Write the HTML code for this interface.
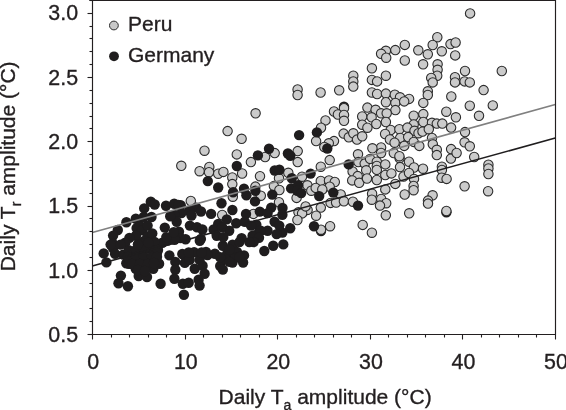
<!DOCTYPE html>
<html><head><meta charset="utf-8"><style>
html,body{margin:0;padding:0;background:#fff;width:566px;height:410px;overflow:hidden}
#c{position:relative;will-change:transform;width:566px;height:410px;font-family:"Liberation Sans",sans-serif;color:#231f20}
svg text{font-family:"Liberation Sans",sans-serif;fill:#231f20;stroke:#231f20;stroke-width:0.35px}
</style></head><body><div id="c">
<svg width="566" height="410" viewBox="0 0 566 410" style="position:absolute;left:0;top:0">
<circle cx="344.0" cy="106.8" r="5.2" fill="#1f1d1e"/>
<circle cx="446.4" cy="212.2" r="5.2" fill="#1f1d1e"/>
<circle cx="321.0" cy="231.0" r="5.2" fill="#1f1d1e"/>
<circle cx="437.3" cy="37.2" r="4.7" fill="#cbcbcb" stroke="#2c2c2c" stroke-width="1.1"/>
<circle cx="404.8" cy="44.9" r="4.7" fill="#cbcbcb" stroke="#2c2c2c" stroke-width="1.1"/>
<circle cx="395.3" cy="50.1" r="4.7" fill="#cbcbcb" stroke="#2c2c2c" stroke-width="1.1"/>
<circle cx="385.9" cy="50.8" r="4.7" fill="#cbcbcb" stroke="#2c2c2c" stroke-width="1.1"/>
<circle cx="381.1" cy="53.8" r="4.7" fill="#cbcbcb" stroke="#2c2c2c" stroke-width="1.1"/>
<circle cx="386.2" cy="57.7" r="4.7" fill="#cbcbcb" stroke="#2c2c2c" stroke-width="1.1"/>
<circle cx="418.3" cy="50.3" r="4.7" fill="#cbcbcb" stroke="#2c2c2c" stroke-width="1.1"/>
<circle cx="432.7" cy="45.0" r="4.7" fill="#cbcbcb" stroke="#2c2c2c" stroke-width="1.1"/>
<circle cx="427.8" cy="54.3" r="4.7" fill="#cbcbcb" stroke="#2c2c2c" stroke-width="1.1"/>
<circle cx="441.8" cy="51.3" r="4.7" fill="#cbcbcb" stroke="#2c2c2c" stroke-width="1.1"/>
<circle cx="450.5" cy="44.1" r="4.7" fill="#cbcbcb" stroke="#2c2c2c" stroke-width="1.1"/>
<circle cx="455.6" cy="42.5" r="4.7" fill="#cbcbcb" stroke="#2c2c2c" stroke-width="1.1"/>
<circle cx="455.2" cy="55.4" r="4.7" fill="#cbcbcb" stroke="#2c2c2c" stroke-width="1.1"/>
<circle cx="470.1" cy="13.4" r="4.7" fill="#cbcbcb" stroke="#2c2c2c" stroke-width="1.1"/>
<circle cx="371.9" cy="68.3" r="4.7" fill="#cbcbcb" stroke="#2c2c2c" stroke-width="1.1"/>
<circle cx="353.3" cy="75.7" r="4.7" fill="#cbcbcb" stroke="#2c2c2c" stroke-width="1.1"/>
<circle cx="353.3" cy="81.4" r="4.7" fill="#cbcbcb" stroke="#2c2c2c" stroke-width="1.1"/>
<circle cx="353.3" cy="86.6" r="4.7" fill="#cbcbcb" stroke="#2c2c2c" stroke-width="1.1"/>
<circle cx="371.9" cy="79.9" r="4.7" fill="#cbcbcb" stroke="#2c2c2c" stroke-width="1.1"/>
<circle cx="377.1" cy="81.4" r="4.7" fill="#cbcbcb" stroke="#2c2c2c" stroke-width="1.1"/>
<circle cx="339.2" cy="90.3" r="4.7" fill="#cbcbcb" stroke="#2c2c2c" stroke-width="1.1"/>
<circle cx="320.6" cy="92.5" r="4.7" fill="#cbcbcb" stroke="#2c2c2c" stroke-width="1.1"/>
<circle cx="371.9" cy="92.5" r="4.7" fill="#cbcbcb" stroke="#2c2c2c" stroke-width="1.1"/>
<circle cx="377.1" cy="94.0" r="4.7" fill="#cbcbcb" stroke="#2c2c2c" stroke-width="1.1"/>
<circle cx="404.8" cy="60.5" r="4.7" fill="#cbcbcb" stroke="#2c2c2c" stroke-width="1.1"/>
<circle cx="423.1" cy="64.3" r="4.7" fill="#cbcbcb" stroke="#2c2c2c" stroke-width="1.1"/>
<circle cx="437.6" cy="64.3" r="4.7" fill="#cbcbcb" stroke="#2c2c2c" stroke-width="1.1"/>
<circle cx="437.6" cy="69.8" r="4.7" fill="#cbcbcb" stroke="#2c2c2c" stroke-width="1.1"/>
<circle cx="437.2" cy="75.7" r="4.7" fill="#cbcbcb" stroke="#2c2c2c" stroke-width="1.1"/>
<circle cx="431.2" cy="77.9" r="4.7" fill="#cbcbcb" stroke="#2c2c2c" stroke-width="1.1"/>
<circle cx="432.7" cy="82.4" r="4.7" fill="#cbcbcb" stroke="#2c2c2c" stroke-width="1.1"/>
<circle cx="385.9" cy="75.7" r="4.7" fill="#cbcbcb" stroke="#2c2c2c" stroke-width="1.1"/>
<circle cx="385.9" cy="93.6" r="4.7" fill="#cbcbcb" stroke="#2c2c2c" stroke-width="1.1"/>
<circle cx="394.8" cy="94.7" r="4.7" fill="#cbcbcb" stroke="#2c2c2c" stroke-width="1.1"/>
<circle cx="400.0" cy="97.3" r="4.7" fill="#cbcbcb" stroke="#2c2c2c" stroke-width="1.1"/>
<circle cx="409.1" cy="98.9" r="4.7" fill="#cbcbcb" stroke="#2c2c2c" stroke-width="1.1"/>
<circle cx="427.8" cy="91.3" r="4.7" fill="#cbcbcb" stroke="#2c2c2c" stroke-width="1.1"/>
<circle cx="427.8" cy="95.0" r="4.7" fill="#cbcbcb" stroke="#2c2c2c" stroke-width="1.1"/>
<circle cx="455.0" cy="77.2" r="4.7" fill="#cbcbcb" stroke="#2c2c2c" stroke-width="1.1"/>
<circle cx="455.0" cy="82.4" r="4.7" fill="#cbcbcb" stroke="#2c2c2c" stroke-width="1.1"/>
<circle cx="451.3" cy="96.5" r="4.7" fill="#cbcbcb" stroke="#2c2c2c" stroke-width="1.1"/>
<circle cx="465.0" cy="71.0" r="4.7" fill="#cbcbcb" stroke="#2c2c2c" stroke-width="1.1"/>
<circle cx="464.6" cy="81.4" r="4.7" fill="#cbcbcb" stroke="#2c2c2c" stroke-width="1.1"/>
<circle cx="469.8" cy="82.4" r="4.7" fill="#cbcbcb" stroke="#2c2c2c" stroke-width="1.1"/>
<circle cx="501.8" cy="71.0" r="4.7" fill="#cbcbcb" stroke="#2c2c2c" stroke-width="1.1"/>
<circle cx="483.6" cy="90.1" r="4.7" fill="#cbcbcb" stroke="#2c2c2c" stroke-width="1.1"/>
<circle cx="297.6" cy="89.4" r="4.7" fill="#cbcbcb" stroke="#2c2c2c" stroke-width="1.1"/>
<circle cx="297.6" cy="95.0" r="4.7" fill="#cbcbcb" stroke="#2c2c2c" stroke-width="1.1"/>
<circle cx="227.6" cy="131.1" r="4.7" fill="#cbcbcb" stroke="#2c2c2c" stroke-width="1.1"/>
<circle cx="255.6" cy="113.3" r="4.7" fill="#cbcbcb" stroke="#2c2c2c" stroke-width="1.1"/>
<circle cx="241.6" cy="138.8" r="4.7" fill="#cbcbcb" stroke="#2c2c2c" stroke-width="1.1"/>
<circle cx="344.0" cy="108.2" r="4.7" fill="#cbcbcb" stroke="#2c2c2c" stroke-width="1.1"/>
<circle cx="334.0" cy="111.5" r="4.7" fill="#cbcbcb" stroke="#2c2c2c" stroke-width="1.1"/>
<circle cx="337.9" cy="114.5" r="4.7" fill="#cbcbcb" stroke="#2c2c2c" stroke-width="1.1"/>
<circle cx="344.0" cy="114.9" r="4.7" fill="#cbcbcb" stroke="#2c2c2c" stroke-width="1.1"/>
<circle cx="344.0" cy="120.8" r="4.7" fill="#cbcbcb" stroke="#2c2c2c" stroke-width="1.1"/>
<circle cx="325.5" cy="120.4" r="4.7" fill="#cbcbcb" stroke="#2c2c2c" stroke-width="1.1"/>
<circle cx="321.0" cy="127.7" r="4.7" fill="#cbcbcb" stroke="#2c2c2c" stroke-width="1.1"/>
<circle cx="316.1" cy="141.1" r="4.7" fill="#cbcbcb" stroke="#2c2c2c" stroke-width="1.1"/>
<circle cx="367.4" cy="107.6" r="4.7" fill="#cbcbcb" stroke="#2c2c2c" stroke-width="1.1"/>
<circle cx="375.6" cy="109.8" r="4.7" fill="#cbcbcb" stroke="#2c2c2c" stroke-width="1.1"/>
<circle cx="362.2" cy="116.5" r="4.7" fill="#cbcbcb" stroke="#2c2c2c" stroke-width="1.1"/>
<circle cx="371.6" cy="117.3" r="4.7" fill="#cbcbcb" stroke="#2c2c2c" stroke-width="1.1"/>
<circle cx="362.2" cy="124.7" r="4.7" fill="#cbcbcb" stroke="#2c2c2c" stroke-width="1.1"/>
<circle cx="367.4" cy="127.7" r="4.7" fill="#cbcbcb" stroke="#2c2c2c" stroke-width="1.1"/>
<circle cx="376.3" cy="124.0" r="4.7" fill="#cbcbcb" stroke="#2c2c2c" stroke-width="1.1"/>
<circle cx="343.6" cy="133.6" r="4.7" fill="#cbcbcb" stroke="#2c2c2c" stroke-width="1.1"/>
<circle cx="348.8" cy="137.3" r="4.7" fill="#cbcbcb" stroke="#2c2c2c" stroke-width="1.1"/>
<circle cx="353.3" cy="133.3" r="4.7" fill="#cbcbcb" stroke="#2c2c2c" stroke-width="1.1"/>
<circle cx="357.0" cy="139.6" r="4.7" fill="#cbcbcb" stroke="#2c2c2c" stroke-width="1.1"/>
<circle cx="362.2" cy="136.3" r="4.7" fill="#cbcbcb" stroke="#2c2c2c" stroke-width="1.1"/>
<circle cx="334.0" cy="141.1" r="4.7" fill="#cbcbcb" stroke="#2c2c2c" stroke-width="1.1"/>
<circle cx="328.8" cy="143.3" r="4.7" fill="#cbcbcb" stroke="#2c2c2c" stroke-width="1.1"/>
<circle cx="324.3" cy="147.0" r="4.7" fill="#cbcbcb" stroke="#2c2c2c" stroke-width="1.1"/>
<circle cx="469.8" cy="105.7" r="4.7" fill="#cbcbcb" stroke="#2c2c2c" stroke-width="1.1"/>
<circle cx="492.8" cy="105.4" r="4.7" fill="#cbcbcb" stroke="#2c2c2c" stroke-width="1.1"/>
<circle cx="479.0" cy="115.8" r="4.7" fill="#cbcbcb" stroke="#2c2c2c" stroke-width="1.1"/>
<circle cx="465.0" cy="132.1" r="4.7" fill="#cbcbcb" stroke="#2c2c2c" stroke-width="1.1"/>
<circle cx="464.6" cy="142.3" r="4.7" fill="#cbcbcb" stroke="#2c2c2c" stroke-width="1.1"/>
<circle cx="469.8" cy="146.3" r="4.7" fill="#cbcbcb" stroke="#2c2c2c" stroke-width="1.1"/>
<circle cx="204.5" cy="150.7" r="4.7" fill="#cbcbcb" stroke="#2c2c2c" stroke-width="1.1"/>
<circle cx="181.3" cy="165.8" r="4.7" fill="#cbcbcb" stroke="#2c2c2c" stroke-width="1.1"/>
<circle cx="199.6" cy="171.2" r="4.7" fill="#cbcbcb" stroke="#2c2c2c" stroke-width="1.1"/>
<circle cx="209.3" cy="167.0" r="4.7" fill="#cbcbcb" stroke="#2c2c2c" stroke-width="1.1"/>
<circle cx="209.0" cy="172.2" r="4.7" fill="#cbcbcb" stroke="#2c2c2c" stroke-width="1.1"/>
<circle cx="218.2" cy="173.7" r="4.7" fill="#cbcbcb" stroke="#2c2c2c" stroke-width="1.1"/>
<circle cx="223.4" cy="171.9" r="4.7" fill="#cbcbcb" stroke="#2c2c2c" stroke-width="1.1"/>
<circle cx="232.3" cy="177.4" r="4.7" fill="#cbcbcb" stroke="#2c2c2c" stroke-width="1.1"/>
<circle cx="232.3" cy="184.1" r="4.7" fill="#cbcbcb" stroke="#2c2c2c" stroke-width="1.1"/>
<circle cx="236.8" cy="154.4" r="4.7" fill="#cbcbcb" stroke="#2c2c2c" stroke-width="1.1"/>
<circle cx="250.9" cy="162.1" r="4.7" fill="#cbcbcb" stroke="#2c2c2c" stroke-width="1.1"/>
<circle cx="265.1" cy="157.0" r="4.7" fill="#cbcbcb" stroke="#2c2c2c" stroke-width="1.1"/>
<circle cx="274.7" cy="153.1" r="4.7" fill="#cbcbcb" stroke="#2c2c2c" stroke-width="1.1"/>
<circle cx="297.7" cy="151.1" r="4.7" fill="#cbcbcb" stroke="#2c2c2c" stroke-width="1.1"/>
<circle cx="297.7" cy="162.1" r="4.7" fill="#cbcbcb" stroke="#2c2c2c" stroke-width="1.1"/>
<circle cx="242.1" cy="173.5" r="4.7" fill="#cbcbcb" stroke="#2c2c2c" stroke-width="1.1"/>
<circle cx="260.0" cy="176.2" r="4.7" fill="#cbcbcb" stroke="#2c2c2c" stroke-width="1.1"/>
<circle cx="255.4" cy="186.6" r="4.7" fill="#cbcbcb" stroke="#2c2c2c" stroke-width="1.1"/>
<circle cx="260.8" cy="195.7" r="4.7" fill="#cbcbcb" stroke="#2c2c2c" stroke-width="1.1"/>
<circle cx="279.0" cy="178.3" r="4.7" fill="#cbcbcb" stroke="#2c2c2c" stroke-width="1.1"/>
<circle cx="288.3" cy="172.8" r="4.7" fill="#cbcbcb" stroke="#2c2c2c" stroke-width="1.1"/>
<circle cx="302.0" cy="176.7" r="4.7" fill="#cbcbcb" stroke="#2c2c2c" stroke-width="1.1"/>
<circle cx="273.9" cy="186.1" r="4.7" fill="#cbcbcb" stroke="#2c2c2c" stroke-width="1.1"/>
<circle cx="279.4" cy="190.0" r="4.7" fill="#cbcbcb" stroke="#2c2c2c" stroke-width="1.1"/>
<circle cx="307.4" cy="185.3" r="4.7" fill="#cbcbcb" stroke="#2c2c2c" stroke-width="1.1"/>
<circle cx="311.3" cy="190.7" r="4.7" fill="#cbcbcb" stroke="#2c2c2c" stroke-width="1.1"/>
<circle cx="329.7" cy="160.1" r="4.7" fill="#cbcbcb" stroke="#2c2c2c" stroke-width="1.1"/>
<circle cx="320.8" cy="166.7" r="4.7" fill="#cbcbcb" stroke="#2c2c2c" stroke-width="1.1"/>
<circle cx="358.0" cy="154.3" r="4.7" fill="#cbcbcb" stroke="#2c2c2c" stroke-width="1.1"/>
<circle cx="358.4" cy="162.1" r="4.7" fill="#cbcbcb" stroke="#2c2c2c" stroke-width="1.1"/>
<circle cx="364.7" cy="163.6" r="4.7" fill="#cbcbcb" stroke="#2c2c2c" stroke-width="1.1"/>
<circle cx="370.1" cy="158.9" r="4.7" fill="#cbcbcb" stroke="#2c2c2c" stroke-width="1.1"/>
<circle cx="376.8" cy="161.7" r="4.7" fill="#cbcbcb" stroke="#2c2c2c" stroke-width="1.1"/>
<circle cx="376.8" cy="166.0" r="4.7" fill="#cbcbcb" stroke="#2c2c2c" stroke-width="1.1"/>
<circle cx="366.2" cy="170.3" r="4.7" fill="#cbcbcb" stroke="#2c2c2c" stroke-width="1.1"/>
<circle cx="385.3" cy="164.4" r="4.7" fill="#cbcbcb" stroke="#2c2c2c" stroke-width="1.1"/>
<circle cx="320.8" cy="180.9" r="4.7" fill="#cbcbcb" stroke="#2c2c2c" stroke-width="1.1"/>
<circle cx="329.0" cy="180.5" r="4.7" fill="#cbcbcb" stroke="#2c2c2c" stroke-width="1.1"/>
<circle cx="334.8" cy="182.0" r="4.7" fill="#cbcbcb" stroke="#2c2c2c" stroke-width="1.1"/>
<circle cx="329.7" cy="186.7" r="4.7" fill="#cbcbcb" stroke="#2c2c2c" stroke-width="1.1"/>
<circle cx="315.7" cy="187.9" r="4.7" fill="#cbcbcb" stroke="#2c2c2c" stroke-width="1.1"/>
<circle cx="322.3" cy="189.5" r="4.7" fill="#cbcbcb" stroke="#2c2c2c" stroke-width="1.1"/>
<circle cx="340.7" cy="194.5" r="4.7" fill="#cbcbcb" stroke="#2c2c2c" stroke-width="1.1"/>
<circle cx="352.6" cy="171.5" r="4.7" fill="#cbcbcb" stroke="#2c2c2c" stroke-width="1.1"/>
<circle cx="357.7" cy="176.1" r="4.7" fill="#cbcbcb" stroke="#2c2c2c" stroke-width="1.1"/>
<circle cx="352.2" cy="180.4" r="4.7" fill="#cbcbcb" stroke="#2c2c2c" stroke-width="1.1"/>
<circle cx="359.2" cy="182.8" r="4.7" fill="#cbcbcb" stroke="#2c2c2c" stroke-width="1.1"/>
<circle cx="367.0" cy="178.5" r="4.7" fill="#cbcbcb" stroke="#2c2c2c" stroke-width="1.1"/>
<circle cx="376.8" cy="169.9" r="4.7" fill="#cbcbcb" stroke="#2c2c2c" stroke-width="1.1"/>
<circle cx="376.8" cy="180.0" r="4.7" fill="#cbcbcb" stroke="#2c2c2c" stroke-width="1.1"/>
<circle cx="385.3" cy="175.0" r="4.7" fill="#cbcbcb" stroke="#2c2c2c" stroke-width="1.1"/>
<circle cx="372.1" cy="193.7" r="4.7" fill="#cbcbcb" stroke="#2c2c2c" stroke-width="1.1"/>
<circle cx="385.3" cy="189.4" r="4.7" fill="#cbcbcb" stroke="#2c2c2c" stroke-width="1.1"/>
<circle cx="399.6" cy="158.2" r="4.7" fill="#cbcbcb" stroke="#2c2c2c" stroke-width="1.1"/>
<circle cx="409.0" cy="161.7" r="4.7" fill="#cbcbcb" stroke="#2c2c2c" stroke-width="1.1"/>
<circle cx="400.0" cy="167.1" r="4.7" fill="#cbcbcb" stroke="#2c2c2c" stroke-width="1.1"/>
<circle cx="414.0" cy="167.5" r="4.7" fill="#cbcbcb" stroke="#2c2c2c" stroke-width="1.1"/>
<circle cx="423.0" cy="168.7" r="4.7" fill="#cbcbcb" stroke="#2c2c2c" stroke-width="1.1"/>
<circle cx="391.4" cy="173.4" r="4.7" fill="#cbcbcb" stroke="#2c2c2c" stroke-width="1.1"/>
<circle cx="403.5" cy="176.5" r="4.7" fill="#cbcbcb" stroke="#2c2c2c" stroke-width="1.1"/>
<circle cx="409.0" cy="173.0" r="4.7" fill="#cbcbcb" stroke="#2c2c2c" stroke-width="1.1"/>
<circle cx="414.0" cy="178.9" r="4.7" fill="#cbcbcb" stroke="#2c2c2c" stroke-width="1.1"/>
<circle cx="395.3" cy="183.9" r="4.7" fill="#cbcbcb" stroke="#2c2c2c" stroke-width="1.1"/>
<circle cx="413.6" cy="185.9" r="4.7" fill="#cbcbcb" stroke="#2c2c2c" stroke-width="1.1"/>
<circle cx="413.6" cy="190.2" r="4.7" fill="#cbcbcb" stroke="#2c2c2c" stroke-width="1.1"/>
<circle cx="404.7" cy="194.5" r="4.7" fill="#cbcbcb" stroke="#2c2c2c" stroke-width="1.1"/>
<circle cx="450.9" cy="158.6" r="4.7" fill="#cbcbcb" stroke="#2c2c2c" stroke-width="1.1"/>
<circle cx="441.9" cy="166.7" r="4.7" fill="#cbcbcb" stroke="#2c2c2c" stroke-width="1.1"/>
<circle cx="441.9" cy="170.0" r="4.7" fill="#cbcbcb" stroke="#2c2c2c" stroke-width="1.1"/>
<circle cx="441.6" cy="177.7" r="4.7" fill="#cbcbcb" stroke="#2c2c2c" stroke-width="1.1"/>
<circle cx="446.6" cy="178.9" r="4.7" fill="#cbcbcb" stroke="#2c2c2c" stroke-width="1.1"/>
<circle cx="464.6" cy="186.3" r="4.7" fill="#cbcbcb" stroke="#2c2c2c" stroke-width="1.1"/>
<circle cx="432.6" cy="195.3" r="4.7" fill="#cbcbcb" stroke="#2c2c2c" stroke-width="1.1"/>
<circle cx="474.2" cy="157.0" r="4.7" fill="#cbcbcb" stroke="#2c2c2c" stroke-width="1.1"/>
<circle cx="488.4" cy="164.7" r="4.7" fill="#cbcbcb" stroke="#2c2c2c" stroke-width="1.1"/>
<circle cx="488.4" cy="168.5" r="4.7" fill="#cbcbcb" stroke="#2c2c2c" stroke-width="1.1"/>
<circle cx="488.4" cy="174.0" r="4.7" fill="#cbcbcb" stroke="#2c2c2c" stroke-width="1.1"/>
<circle cx="488.1" cy="191.2" r="4.7" fill="#cbcbcb" stroke="#2c2c2c" stroke-width="1.1"/>
<circle cx="190.8" cy="201.0" r="4.7" fill="#cbcbcb" stroke="#2c2c2c" stroke-width="1.1"/>
<circle cx="232.8" cy="196.7" r="4.7" fill="#cbcbcb" stroke="#2c2c2c" stroke-width="1.1"/>
<circle cx="222.2" cy="215.0" r="4.7" fill="#cbcbcb" stroke="#2c2c2c" stroke-width="1.1"/>
<circle cx="253.4" cy="213.9" r="4.7" fill="#cbcbcb" stroke="#2c2c2c" stroke-width="1.1"/>
<circle cx="279.0" cy="202.2" r="4.7" fill="#cbcbcb" stroke="#2c2c2c" stroke-width="1.1"/>
<circle cx="296.6" cy="197.9" r="4.7" fill="#cbcbcb" stroke="#2c2c2c" stroke-width="1.1"/>
<circle cx="298.5" cy="212.3" r="4.7" fill="#cbcbcb" stroke="#2c2c2c" stroke-width="1.1"/>
<circle cx="330.6" cy="202.9" r="4.7" fill="#cbcbcb" stroke="#2c2c2c" stroke-width="1.1"/>
<circle cx="320.8" cy="207.6" r="4.7" fill="#cbcbcb" stroke="#2c2c2c" stroke-width="1.1"/>
<circle cx="307.6" cy="209.9" r="4.7" fill="#cbcbcb" stroke="#2c2c2c" stroke-width="1.1"/>
<circle cx="302.1" cy="213.4" r="4.7" fill="#cbcbcb" stroke="#2c2c2c" stroke-width="1.1"/>
<circle cx="316.1" cy="215.7" r="4.7" fill="#cbcbcb" stroke="#2c2c2c" stroke-width="1.1"/>
<circle cx="297.4" cy="220.0" r="4.7" fill="#cbcbcb" stroke="#2c2c2c" stroke-width="1.1"/>
<circle cx="305.6" cy="206.4" r="4.7" fill="#cbcbcb" stroke="#2c2c2c" stroke-width="1.1"/>
<circle cx="336.1" cy="202.5" r="4.7" fill="#cbcbcb" stroke="#2c2c2c" stroke-width="1.1"/>
<circle cx="343.9" cy="201.3" r="4.7" fill="#cbcbcb" stroke="#2c2c2c" stroke-width="1.1"/>
<circle cx="352.9" cy="201.7" r="4.7" fill="#cbcbcb" stroke="#2c2c2c" stroke-width="1.1"/>
<circle cx="371.8" cy="199.7" r="4.7" fill="#cbcbcb" stroke="#2c2c2c" stroke-width="1.1"/>
<circle cx="381.2" cy="198.9" r="4.7" fill="#cbcbcb" stroke="#2c2c2c" stroke-width="1.1"/>
<circle cx="386.2" cy="203.2" r="4.7" fill="#cbcbcb" stroke="#2c2c2c" stroke-width="1.1"/>
<circle cx="380.0" cy="205.6" r="4.7" fill="#cbcbcb" stroke="#2c2c2c" stroke-width="1.1"/>
<circle cx="385.8" cy="215.3" r="4.7" fill="#cbcbcb" stroke="#2c2c2c" stroke-width="1.1"/>
<circle cx="428.0" cy="200.6" r="4.7" fill="#cbcbcb" stroke="#2c2c2c" stroke-width="1.1"/>
<circle cx="428.0" cy="203.6" r="4.7" fill="#cbcbcb" stroke="#2c2c2c" stroke-width="1.1"/>
<circle cx="409.2" cy="213.3" r="4.7" fill="#cbcbcb" stroke="#2c2c2c" stroke-width="1.1"/>
<circle cx="446.4" cy="211.0" r="4.7" fill="#cbcbcb" stroke="#2c2c2c" stroke-width="1.1"/>
<circle cx="321.0" cy="229.7" r="4.7" fill="#cbcbcb" stroke="#2c2c2c" stroke-width="1.1"/>
<circle cx="330.1" cy="226.2" r="4.7" fill="#cbcbcb" stroke="#2c2c2c" stroke-width="1.1"/>
<circle cx="362.7" cy="224.9" r="4.7" fill="#cbcbcb" stroke="#2c2c2c" stroke-width="1.1"/>
<circle cx="371.9" cy="232.7" r="4.7" fill="#cbcbcb" stroke="#2c2c2c" stroke-width="1.1"/>
<circle cx="385.9" cy="102.2" r="4.7" fill="#cbcbcb" stroke="#2c2c2c" stroke-width="1.1"/>
<circle cx="395.4" cy="102.9" r="4.7" fill="#cbcbcb" stroke="#2c2c2c" stroke-width="1.1"/>
<circle cx="395.4" cy="110.1" r="4.7" fill="#cbcbcb" stroke="#2c2c2c" stroke-width="1.1"/>
<circle cx="404.2" cy="101.4" r="4.7" fill="#cbcbcb" stroke="#2c2c2c" stroke-width="1.1"/>
<circle cx="423.3" cy="102.9" r="4.7" fill="#cbcbcb" stroke="#2c2c2c" stroke-width="1.1"/>
<circle cx="381.1" cy="113.3" r="4.7" fill="#cbcbcb" stroke="#2c2c2c" stroke-width="1.1"/>
<circle cx="386.7" cy="113.3" r="4.7" fill="#cbcbcb" stroke="#2c2c2c" stroke-width="1.1"/>
<circle cx="385.9" cy="122.0" r="4.7" fill="#cbcbcb" stroke="#2c2c2c" stroke-width="1.1"/>
<circle cx="413.7" cy="115.7" r="4.7" fill="#cbcbcb" stroke="#2c2c2c" stroke-width="1.1"/>
<circle cx="423.3" cy="114.1" r="4.7" fill="#cbcbcb" stroke="#2c2c2c" stroke-width="1.1"/>
<circle cx="446.3" cy="111.7" r="4.7" fill="#cbcbcb" stroke="#2c2c2c" stroke-width="1.1"/>
<circle cx="455.9" cy="117.3" r="4.7" fill="#cbcbcb" stroke="#2c2c2c" stroke-width="1.1"/>
<circle cx="413.7" cy="124.4" r="4.7" fill="#cbcbcb" stroke="#2c2c2c" stroke-width="1.1"/>
<circle cx="423.3" cy="122.0" r="4.7" fill="#cbcbcb" stroke="#2c2c2c" stroke-width="1.1"/>
<circle cx="432.0" cy="122.8" r="4.7" fill="#cbcbcb" stroke="#2c2c2c" stroke-width="1.1"/>
<circle cx="436.8" cy="123.6" r="4.7" fill="#cbcbcb" stroke="#2c2c2c" stroke-width="1.1"/>
<circle cx="442.3" cy="123.6" r="4.7" fill="#cbcbcb" stroke="#2c2c2c" stroke-width="1.1"/>
<circle cx="451.1" cy="127.6" r="4.7" fill="#cbcbcb" stroke="#2c2c2c" stroke-width="1.1"/>
<circle cx="390.7" cy="130.0" r="4.7" fill="#cbcbcb" stroke="#2c2c2c" stroke-width="1.1"/>
<circle cx="385.1" cy="134.0" r="4.7" fill="#cbcbcb" stroke="#2c2c2c" stroke-width="1.1"/>
<circle cx="399.4" cy="129.2" r="4.7" fill="#cbcbcb" stroke="#2c2c2c" stroke-width="1.1"/>
<circle cx="407.4" cy="127.6" r="4.7" fill="#cbcbcb" stroke="#2c2c2c" stroke-width="1.1"/>
<circle cx="414.5" cy="130.8" r="4.7" fill="#cbcbcb" stroke="#2c2c2c" stroke-width="1.1"/>
<circle cx="418.5" cy="133.2" r="4.7" fill="#cbcbcb" stroke="#2c2c2c" stroke-width="1.1"/>
<circle cx="422.5" cy="131.6" r="4.7" fill="#cbcbcb" stroke="#2c2c2c" stroke-width="1.1"/>
<circle cx="428.8" cy="129.2" r="4.7" fill="#cbcbcb" stroke="#2c2c2c" stroke-width="1.1"/>
<circle cx="389.9" cy="139.5" r="4.7" fill="#cbcbcb" stroke="#2c2c2c" stroke-width="1.1"/>
<circle cx="400.2" cy="137.9" r="4.7" fill="#cbcbcb" stroke="#2c2c2c" stroke-width="1.1"/>
<circle cx="394.6" cy="142.7" r="4.7" fill="#cbcbcb" stroke="#2c2c2c" stroke-width="1.1"/>
<circle cx="408.2" cy="137.1" r="4.7" fill="#cbcbcb" stroke="#2c2c2c" stroke-width="1.1"/>
<circle cx="413.7" cy="141.9" r="4.7" fill="#cbcbcb" stroke="#2c2c2c" stroke-width="1.1"/>
<circle cx="432.0" cy="137.9" r="4.7" fill="#cbcbcb" stroke="#2c2c2c" stroke-width="1.1"/>
<circle cx="432.8" cy="144.3" r="4.7" fill="#cbcbcb" stroke="#2c2c2c" stroke-width="1.1"/>
<circle cx="419.3" cy="145.9" r="4.7" fill="#cbcbcb" stroke="#2c2c2c" stroke-width="1.1"/>
<circle cx="404.2" cy="145.9" r="4.7" fill="#cbcbcb" stroke="#2c2c2c" stroke-width="1.1"/>
<circle cx="436.8" cy="149.8" r="4.7" fill="#cbcbcb" stroke="#2c2c2c" stroke-width="1.1"/>
<circle cx="451.1" cy="149.1" r="4.7" fill="#cbcbcb" stroke="#2c2c2c" stroke-width="1.1"/>
<circle cx="456.6" cy="153.0" r="4.7" fill="#cbcbcb" stroke="#2c2c2c" stroke-width="1.1"/>
<circle cx="381.1" cy="147.5" r="4.7" fill="#cbcbcb" stroke="#2c2c2c" stroke-width="1.1"/>
<circle cx="393.8" cy="153.0" r="4.7" fill="#cbcbcb" stroke="#2c2c2c" stroke-width="1.1"/>
<circle cx="436.8" cy="155.1" r="4.7" fill="#cbcbcb" stroke="#2c2c2c" stroke-width="1.1"/>
<circle cx="372.4" cy="148.3" r="4.7" fill="#cbcbcb" stroke="#2c2c2c" stroke-width="1.1"/>
<circle cx="381.1" cy="153.0" r="4.7" fill="#cbcbcb" stroke="#2c2c2c" stroke-width="1.1"/>
<circle cx="399.4" cy="156.2" r="4.7" fill="#cbcbcb" stroke="#2c2c2c" stroke-width="1.1"/>
<circle cx="299.1" cy="135.1" r="5.2" fill="#1f1d1e"/>
<circle cx="316.9" cy="132.4" r="5.2" fill="#1f1d1e"/>
<circle cx="327.3" cy="148.5" r="5.2" fill="#1f1d1e"/>
<circle cx="236.8" cy="166.0" r="5.2" fill="#1f1d1e"/>
<circle cx="207.8" cy="181.1" r="5.2" fill="#1f1d1e"/>
<circle cx="218.2" cy="187.5" r="5.2" fill="#1f1d1e"/>
<circle cx="233.1" cy="192.3" r="5.2" fill="#1f1d1e"/>
<circle cx="257.9" cy="155.4" r="5.2" fill="#1f1d1e"/>
<circle cx="269.0" cy="148.8" r="5.2" fill="#1f1d1e"/>
<circle cx="287.9" cy="153.5" r="5.2" fill="#1f1d1e"/>
<circle cx="290.3" cy="155.8" r="5.2" fill="#1f1d1e"/>
<circle cx="244.0" cy="188.7" r="5.2" fill="#1f1d1e"/>
<circle cx="255.4" cy="190.8" r="5.2" fill="#1f1d1e"/>
<circle cx="246.4" cy="195.3" r="5.2" fill="#1f1d1e"/>
<circle cx="274.7" cy="170.5" r="5.2" fill="#1f1d1e"/>
<circle cx="279.4" cy="169.7" r="5.2" fill="#1f1d1e"/>
<circle cx="291.8" cy="178.3" r="5.2" fill="#1f1d1e"/>
<circle cx="310.6" cy="173.6" r="5.2" fill="#1f1d1e"/>
<circle cx="291.1" cy="188.4" r="5.2" fill="#1f1d1e"/>
<circle cx="298.1" cy="185.3" r="5.2" fill="#1f1d1e"/>
<circle cx="297.3" cy="190.7" r="5.2" fill="#1f1d1e"/>
<circle cx="301.2" cy="193.1" r="5.2" fill="#1f1d1e"/>
<circle cx="272.3" cy="194.6" r="5.2" fill="#1f1d1e"/>
<circle cx="348.7" cy="164.4" r="5.2" fill="#1f1d1e"/>
<circle cx="333.3" cy="192.6" r="5.2" fill="#1f1d1e"/>
<circle cx="319.2" cy="196.1" r="5.2" fill="#1f1d1e"/>
<circle cx="126.4" cy="222.2" r="5.2" fill="#1f1d1e"/>
<circle cx="135.8" cy="218.7" r="5.2" fill="#1f1d1e"/>
<circle cx="117.8" cy="230.0" r="5.2" fill="#1f1d1e"/>
<circle cx="136.6" cy="228.1" r="5.2" fill="#1f1d1e"/>
<circle cx="150.8" cy="201.8" r="5.2" fill="#1f1d1e"/>
<circle cx="154.7" cy="204.5" r="5.2" fill="#1f1d1e"/>
<circle cx="144.2" cy="208.4" r="5.2" fill="#1f1d1e"/>
<circle cx="166.0" cy="205.7" r="5.2" fill="#1f1d1e"/>
<circle cx="174.2" cy="203.7" r="5.2" fill="#1f1d1e"/>
<circle cx="180.7" cy="205.3" r="5.2" fill="#1f1d1e"/>
<circle cx="178.3" cy="204.9" r="5.2" fill="#1f1d1e"/>
<circle cx="196.3" cy="207.6" r="5.2" fill="#1f1d1e"/>
<circle cx="201.0" cy="211.5" r="5.2" fill="#1f1d1e"/>
<circle cx="211.1" cy="213.9" r="5.2" fill="#1f1d1e"/>
<circle cx="189.3" cy="210.7" r="5.2" fill="#1f1d1e"/>
<circle cx="255.0" cy="201.4" r="5.2" fill="#1f1d1e"/>
<circle cx="221.5" cy="203.3" r="5.2" fill="#1f1d1e"/>
<circle cx="232.4" cy="210.0" r="5.2" fill="#1f1d1e"/>
<circle cx="246.0" cy="213.9" r="5.2" fill="#1f1d1e"/>
<circle cx="271.2" cy="207.6" r="5.2" fill="#1f1d1e"/>
<circle cx="282.5" cy="208.0" r="5.2" fill="#1f1d1e"/>
<circle cx="358.0" cy="205.6" r="5.2" fill="#1f1d1e"/>
<circle cx="314.0" cy="226.3" r="5.2" fill="#1f1d1e"/>
<circle cx="282.4" cy="214.7" r="5.2" fill="#1f1d1e"/>
<circle cx="274.6" cy="221.7" r="5.2" fill="#1f1d1e"/>
<circle cx="256.3" cy="224.8" r="5.2" fill="#1f1d1e"/>
<circle cx="267.6" cy="230.7" r="5.2" fill="#1f1d1e"/>
<circle cx="290.2" cy="228.3" r="5.2" fill="#1f1d1e"/>
<circle cx="282.4" cy="232.6" r="5.2" fill="#1f1d1e"/>
<circle cx="255.9" cy="235.0" r="5.2" fill="#1f1d1e"/>
<circle cx="259.8" cy="211.6" r="5.2" fill="#1f1d1e"/>
<circle cx="267.6" cy="213.1" r="5.2" fill="#1f1d1e"/>
<circle cx="279.3" cy="225.6" r="5.2" fill="#1f1d1e"/>
<circle cx="226.8" cy="219.4" r="5.2" fill="#1f1d1e"/>
<circle cx="218.2" cy="224.0" r="5.2" fill="#1f1d1e"/>
<circle cx="213.6" cy="229.5" r="5.2" fill="#1f1d1e"/>
<circle cx="216.7" cy="235.7" r="5.2" fill="#1f1d1e"/>
<circle cx="229.2" cy="230.7" r="5.2" fill="#1f1d1e"/>
<circle cx="236.2" cy="223.3" r="5.2" fill="#1f1d1e"/>
<circle cx="244.8" cy="221.7" r="5.2" fill="#1f1d1e"/>
<circle cx="251.0" cy="225.6" r="5.2" fill="#1f1d1e"/>
<circle cx="252.6" cy="235.7" r="5.2" fill="#1f1d1e"/>
<circle cx="241.6" cy="238.1" r="5.2" fill="#1f1d1e"/>
<circle cx="222.1" cy="227.2" r="5.2" fill="#1f1d1e"/>
<circle cx="191.5" cy="215.5" r="5.2" fill="#1f1d1e"/>
<circle cx="181.4" cy="213.1" r="5.2" fill="#1f1d1e"/>
<circle cx="174.3" cy="214.7" r="5.2" fill="#1f1d1e"/>
<circle cx="176.7" cy="221.7" r="5.2" fill="#1f1d1e"/>
<circle cx="189.9" cy="225.6" r="5.2" fill="#1f1d1e"/>
<circle cx="197.0" cy="227.2" r="5.2" fill="#1f1d1e"/>
<circle cx="202.4" cy="229.5" r="5.2" fill="#1f1d1e"/>
<circle cx="179.0" cy="231.8" r="5.2" fill="#1f1d1e"/>
<circle cx="180.6" cy="238.1" r="5.2" fill="#1f1d1e"/>
<circle cx="200.9" cy="238.9" r="5.2" fill="#1f1d1e"/>
<circle cx="151.5" cy="217.0" r="5.2" fill="#1f1d1e"/>
<circle cx="170.2" cy="216.2" r="5.2" fill="#1f1d1e"/>
<circle cx="164.8" cy="227.6" r="5.2" fill="#1f1d1e"/>
<circle cx="139.8" cy="225.6" r="5.2" fill="#1f1d1e"/>
<circle cx="142.1" cy="230.3" r="5.2" fill="#1f1d1e"/>
<circle cx="135.9" cy="235.7" r="5.2" fill="#1f1d1e"/>
<circle cx="147.6" cy="236.5" r="5.2" fill="#1f1d1e"/>
<circle cx="162.4" cy="242.8" r="5.2" fill="#1f1d1e"/>
<circle cx="174.1" cy="236.5" r="5.2" fill="#1f1d1e"/>
<circle cx="147.6" cy="225.6" r="5.2" fill="#1f1d1e"/>
<circle cx="152.3" cy="233.4" r="5.2" fill="#1f1d1e"/>
<circle cx="143.7" cy="241.2" r="5.2" fill="#1f1d1e"/>
<circle cx="154.6" cy="242.0" r="5.2" fill="#1f1d1e"/>
<circle cx="143.7" cy="217.0" r="5.2" fill="#1f1d1e"/>
<circle cx="113.1" cy="235.6" r="5.2" fill="#1f1d1e"/>
<circle cx="112.7" cy="243.4" r="5.2" fill="#1f1d1e"/>
<circle cx="129.4" cy="237.9" r="5.2" fill="#1f1d1e"/>
<circle cx="125.2" cy="242.7" r="5.2" fill="#1f1d1e"/>
<circle cx="103.7" cy="253.4" r="5.2" fill="#1f1d1e"/>
<circle cx="113.1" cy="248.3" r="5.2" fill="#1f1d1e"/>
<circle cx="115.1" cy="253.9" r="5.2" fill="#1f1d1e"/>
<circle cx="106.4" cy="262.4" r="5.2" fill="#1f1d1e"/>
<circle cx="126.3" cy="263.2" r="5.2" fill="#1f1d1e"/>
<circle cx="123.2" cy="254.6" r="5.2" fill="#1f1d1e"/>
<circle cx="128.7" cy="250.3" r="5.2" fill="#1f1d1e"/>
<circle cx="120.9" cy="275.6" r="5.2" fill="#1f1d1e"/>
<circle cx="160.6" cy="283.8" r="5.2" fill="#1f1d1e"/>
<circle cx="127.9" cy="286.3" r="5.2" fill="#1f1d1e"/>
<circle cx="138.7" cy="276.0" r="5.2" fill="#1f1d1e"/>
<circle cx="147.0" cy="277.0" r="5.2" fill="#1f1d1e"/>
<circle cx="135.7" cy="268.7" r="5.2" fill="#1f1d1e"/>
<circle cx="153.3" cy="268.7" r="5.2" fill="#1f1d1e"/>
<circle cx="159.1" cy="263.8" r="5.2" fill="#1f1d1e"/>
<circle cx="128.9" cy="263.8" r="5.2" fill="#1f1d1e"/>
<circle cx="157.0" cy="252.8" r="5.2" fill="#1f1d1e"/>
<circle cx="167.5" cy="240.6" r="5.2" fill="#1f1d1e"/>
<circle cx="174.6" cy="239.8" r="5.2" fill="#1f1d1e"/>
<circle cx="139.8" cy="249.7" r="5.2" fill="#1f1d1e"/>
<circle cx="151.8" cy="249.9" r="5.2" fill="#1f1d1e"/>
<circle cx="118.5" cy="283.3" r="5.2" fill="#1f1d1e"/>
<circle cx="136.0" cy="250.0" r="5.2" fill="#1f1d1e"/>
<circle cx="144.0" cy="250.0" r="5.2" fill="#1f1d1e"/>
<circle cx="158.0" cy="250.0" r="5.2" fill="#1f1d1e"/>
<circle cx="128.0" cy="257.0" r="5.2" fill="#1f1d1e"/>
<circle cx="136.0" cy="257.0" r="5.2" fill="#1f1d1e"/>
<circle cx="144.0" cy="257.0" r="5.2" fill="#1f1d1e"/>
<circle cx="152.0" cy="257.0" r="5.2" fill="#1f1d1e"/>
<circle cx="157.0" cy="257.0" r="5.2" fill="#1f1d1e"/>
<circle cx="132.0" cy="264.0" r="5.2" fill="#1f1d1e"/>
<circle cx="140.0" cy="264.0" r="5.2" fill="#1f1d1e"/>
<circle cx="148.0" cy="264.0" r="5.2" fill="#1f1d1e"/>
<circle cx="154.0" cy="263.0" r="5.2" fill="#1f1d1e"/>
<circle cx="138.0" cy="270.0" r="5.2" fill="#1f1d1e"/>
<circle cx="145.0" cy="271.0" r="5.2" fill="#1f1d1e"/>
<circle cx="183.9" cy="294.8" r="5.2" fill="#1f1d1e"/>
<circle cx="137.9" cy="244.5" r="5.2" fill="#1f1d1e"/>
<circle cx="148.5" cy="242.7" r="5.2" fill="#1f1d1e"/>
<circle cx="185.6" cy="239.2" r="5.2" fill="#1f1d1e"/>
<circle cx="222.8" cy="245.7" r="5.2" fill="#1f1d1e"/>
<circle cx="232.5" cy="244.8" r="5.2" fill="#1f1d1e"/>
<circle cx="264.3" cy="251.0" r="5.2" fill="#1f1d1e"/>
<circle cx="273.2" cy="245.7" r="5.2" fill="#1f1d1e"/>
<circle cx="194.1" cy="252.2" r="5.2" fill="#1f1d1e"/>
<circle cx="214.9" cy="253.7" r="5.2" fill="#1f1d1e"/>
<circle cx="227.2" cy="253.7" r="5.2" fill="#1f1d1e"/>
<circle cx="237.0" cy="251.9" r="5.2" fill="#1f1d1e"/>
<circle cx="244.0" cy="255.4" r="5.2" fill="#1f1d1e"/>
<circle cx="243.1" cy="262.5" r="5.2" fill="#1f1d1e"/>
<circle cx="232.5" cy="262.5" r="5.2" fill="#1f1d1e"/>
<circle cx="220.2" cy="266.0" r="5.2" fill="#1f1d1e"/>
<circle cx="222.8" cy="269.6" r="5.2" fill="#1f1d1e"/>
<circle cx="225.5" cy="259.0" r="5.2" fill="#1f1d1e"/>
<circle cx="236.1" cy="257.2" r="5.2" fill="#1f1d1e"/>
<circle cx="220.2" cy="257.2" r="5.2" fill="#1f1d1e"/>
<circle cx="283.3" cy="244.4" r="5.2" fill="#1f1d1e"/>
<circle cx="260.7" cy="230.6" r="5.2" fill="#1f1d1e"/>
<circle cx="259.0" cy="237.7" r="5.2" fill="#1f1d1e"/>
<circle cx="253.7" cy="242.1" r="5.2" fill="#1f1d1e"/>
<circle cx="276.6" cy="234.1" r="5.2" fill="#1f1d1e"/>
<circle cx="239.4" cy="242.1" r="5.2" fill="#1f1d1e"/>
<circle cx="249.3" cy="242.1" r="5.2" fill="#1f1d1e"/>
<circle cx="229.5" cy="249.5" r="5.2" fill="#1f1d1e"/>
<circle cx="206.0" cy="252.0" r="5.2" fill="#1f1d1e"/>
<circle cx="239.4" cy="256.9" r="5.2" fill="#1f1d1e"/>
<circle cx="229.5" cy="261.9" r="5.2" fill="#1f1d1e"/>
<circle cx="199.8" cy="240.8" r="5.2" fill="#1f1d1e"/>
<circle cx="223.3" cy="237.1" r="5.2" fill="#1f1d1e"/>
<circle cx="120.5" cy="244.6" r="5.2" fill="#1f1d1e"/>
<circle cx="110.6" cy="244.6" r="5.2" fill="#1f1d1e"/>
<circle cx="166.3" cy="237.1" r="5.2" fill="#1f1d1e"/>
<circle cx="173.7" cy="232.2" r="5.2" fill="#1f1d1e"/>
<circle cx="169.4" cy="255.4" r="5.2" fill="#1f1d1e"/>
<circle cx="182.3" cy="254.0" r="5.2" fill="#1f1d1e"/>
<circle cx="175.3" cy="261.9" r="5.2" fill="#1f1d1e"/>
<circle cx="175.3" cy="269.8" r="5.2" fill="#1f1d1e"/>
<circle cx="184.8" cy="262.9" r="5.2" fill="#1f1d1e"/>
<circle cx="189.7" cy="259.9" r="5.2" fill="#1f1d1e"/>
<circle cx="194.7" cy="268.8" r="5.2" fill="#1f1d1e"/>
<circle cx="202.6" cy="265.8" r="5.2" fill="#1f1d1e"/>
<circle cx="204.6" cy="273.8" r="5.2" fill="#1f1d1e"/>
<circle cx="174.4" cy="278.7" r="5.2" fill="#1f1d1e"/>
<circle cx="182.8" cy="283.7" r="5.2" fill="#1f1d1e"/>
<circle cx="188.7" cy="282.7" r="5.2" fill="#1f1d1e"/>
<circle cx="198.6" cy="279.7" r="5.2" fill="#1f1d1e"/>
<circle cx="199.6" cy="285.6" r="5.2" fill="#1f1d1e"/>
<circle cx="207.5" cy="255.0" r="5.2" fill="#1f1d1e"/>
<circle cx="199.6" cy="259.9" r="5.2" fill="#1f1d1e"/>
<circle cx="188.7" cy="252.5" r="5.2" fill="#1f1d1e"/>
<circle cx="201.6" cy="252.5" r="5.2" fill="#1f1d1e"/>
<line x1="92.3" y1="232.6" x2="555.3" y2="104.6" stroke="#808080" stroke-width="1.6"/>
<line x1="92.3" y1="265.9" x2="555.3" y2="138.0" stroke="#1f1d1e" stroke-width="1.6"/>
<path d="M92.5 0 V334.5 H555.5 V0" fill="none" stroke="#231f20" stroke-width="1.15"/>
<line x1="89.5" y1="0.5" x2="556" y2="0.5" stroke="#231f20" stroke-width="1.15"/>
<line x1="87.5" y1="334.5" x2="92.5" y2="334.5" stroke="#231f20" stroke-width="1.1"/>
<line x1="89.5" y1="321.5" x2="92.5" y2="321.5" stroke="#231f20" stroke-width="1.1"/>
<line x1="89.5" y1="308.5" x2="92.5" y2="308.5" stroke="#231f20" stroke-width="1.1"/>
<line x1="89.5" y1="296.5" x2="92.5" y2="296.5" stroke="#231f20" stroke-width="1.1"/>
<line x1="89.5" y1="283.5" x2="92.5" y2="283.5" stroke="#231f20" stroke-width="1.1"/>
<line x1="87.5" y1="270.5" x2="92.5" y2="270.5" stroke="#231f20" stroke-width="1.1"/>
<line x1="89.5" y1="257.5" x2="92.5" y2="257.5" stroke="#231f20" stroke-width="1.1"/>
<line x1="89.5" y1="244.5" x2="92.5" y2="244.5" stroke="#231f20" stroke-width="1.1"/>
<line x1="89.5" y1="231.5" x2="92.5" y2="231.5" stroke="#231f20" stroke-width="1.1"/>
<line x1="89.5" y1="218.5" x2="92.5" y2="218.5" stroke="#231f20" stroke-width="1.1"/>
<line x1="87.5" y1="206.5" x2="92.5" y2="206.5" stroke="#231f20" stroke-width="1.1"/>
<line x1="89.5" y1="193.5" x2="92.5" y2="193.5" stroke="#231f20" stroke-width="1.1"/>
<line x1="89.5" y1="180.5" x2="92.5" y2="180.5" stroke="#231f20" stroke-width="1.1"/>
<line x1="89.5" y1="167.5" x2="92.5" y2="167.5" stroke="#231f20" stroke-width="1.1"/>
<line x1="89.5" y1="154.5" x2="92.5" y2="154.5" stroke="#231f20" stroke-width="1.1"/>
<line x1="87.5" y1="141.5" x2="92.5" y2="141.5" stroke="#231f20" stroke-width="1.1"/>
<line x1="89.5" y1="128.5" x2="92.5" y2="128.5" stroke="#231f20" stroke-width="1.1"/>
<line x1="89.5" y1="116.5" x2="92.5" y2="116.5" stroke="#231f20" stroke-width="1.1"/>
<line x1="89.5" y1="103.5" x2="92.5" y2="103.5" stroke="#231f20" stroke-width="1.1"/>
<line x1="89.5" y1="90.5" x2="92.5" y2="90.5" stroke="#231f20" stroke-width="1.1"/>
<line x1="87.5" y1="77.5" x2="92.5" y2="77.5" stroke="#231f20" stroke-width="1.1"/>
<line x1="89.5" y1="64.5" x2="92.5" y2="64.5" stroke="#231f20" stroke-width="1.1"/>
<line x1="89.5" y1="51.5" x2="92.5" y2="51.5" stroke="#231f20" stroke-width="1.1"/>
<line x1="89.5" y1="38.5" x2="92.5" y2="38.5" stroke="#231f20" stroke-width="1.1"/>
<line x1="89.5" y1="26.5" x2="92.5" y2="26.5" stroke="#231f20" stroke-width="1.1"/>
<line x1="87.5" y1="13.5" x2="92.5" y2="13.5" stroke="#231f20" stroke-width="1.1"/>
<line x1="89.5" y1="0.5" x2="92.5" y2="0.5" stroke="#231f20" stroke-width="1.1"/>
<line x1="92.5" y1="334.5" x2="92.5" y2="339.5" stroke="#231f20" stroke-width="1.1"/>
<line x1="111.5" y1="334.5" x2="111.5" y2="337.5" stroke="#231f20" stroke-width="1.1"/>
<line x1="129.5" y1="334.5" x2="129.5" y2="337.5" stroke="#231f20" stroke-width="1.1"/>
<line x1="148.5" y1="334.5" x2="148.5" y2="337.5" stroke="#231f20" stroke-width="1.1"/>
<line x1="166.5" y1="334.5" x2="166.5" y2="337.5" stroke="#231f20" stroke-width="1.1"/>
<line x1="185.5" y1="334.5" x2="185.5" y2="339.5" stroke="#231f20" stroke-width="1.1"/>
<line x1="203.5" y1="334.5" x2="203.5" y2="337.5" stroke="#231f20" stroke-width="1.1"/>
<line x1="222.5" y1="334.5" x2="222.5" y2="337.5" stroke="#231f20" stroke-width="1.1"/>
<line x1="240.5" y1="334.5" x2="240.5" y2="337.5" stroke="#231f20" stroke-width="1.1"/>
<line x1="259.5" y1="334.5" x2="259.5" y2="337.5" stroke="#231f20" stroke-width="1.1"/>
<line x1="277.5" y1="334.5" x2="277.5" y2="339.5" stroke="#231f20" stroke-width="1.1"/>
<line x1="296.5" y1="334.5" x2="296.5" y2="337.5" stroke="#231f20" stroke-width="1.1"/>
<line x1="314.5" y1="334.5" x2="314.5" y2="337.5" stroke="#231f20" stroke-width="1.1"/>
<line x1="333.5" y1="334.5" x2="333.5" y2="337.5" stroke="#231f20" stroke-width="1.1"/>
<line x1="351.5" y1="334.5" x2="351.5" y2="337.5" stroke="#231f20" stroke-width="1.1"/>
<line x1="370.5" y1="334.5" x2="370.5" y2="339.5" stroke="#231f20" stroke-width="1.1"/>
<line x1="388.5" y1="334.5" x2="388.5" y2="337.5" stroke="#231f20" stroke-width="1.1"/>
<line x1="407.5" y1="334.5" x2="407.5" y2="337.5" stroke="#231f20" stroke-width="1.1"/>
<line x1="425.5" y1="334.5" x2="425.5" y2="337.5" stroke="#231f20" stroke-width="1.1"/>
<line x1="444.5" y1="334.5" x2="444.5" y2="337.5" stroke="#231f20" stroke-width="1.1"/>
<line x1="462.5" y1="334.5" x2="462.5" y2="339.5" stroke="#231f20" stroke-width="1.1"/>
<line x1="481.5" y1="334.5" x2="481.5" y2="337.5" stroke="#231f20" stroke-width="1.1"/>
<line x1="499.5" y1="334.5" x2="499.5" y2="337.5" stroke="#231f20" stroke-width="1.1"/>
<line x1="518.5" y1="334.5" x2="518.5" y2="337.5" stroke="#231f20" stroke-width="1.1"/>
<line x1="536.5" y1="334.5" x2="536.5" y2="337.5" stroke="#231f20" stroke-width="1.1"/>
<line x1="555.5" y1="334.5" x2="555.5" y2="339.5" stroke="#231f20" stroke-width="1.1"/>
</svg>
<svg width="566" height="410" style="position:absolute;left:0;top:0">
<text x="78.1" y="341.8" font-size="21.4" text-anchor="end">0.5</text>
<text x="78.1" y="277.5" font-size="21.4" text-anchor="end">1.0</text>
<text x="78.1" y="213.2" font-size="21.4" text-anchor="end">1.5</text>
<text x="78.1" y="148.9" font-size="21.4" text-anchor="end">2.0</text>
<text x="78.1" y="84.6" font-size="21.4" text-anchor="end">2.5</text>
<text x="78.1" y="20.3" font-size="21.4" text-anchor="end">3.0</text>
<text x="93.2" y="368.6" font-size="21.4" text-anchor="middle">0</text>
<text x="185.8" y="368.6" font-size="21.4" text-anchor="middle">10</text>
<text x="278.3" y="368.6" font-size="21.4" text-anchor="middle">20</text>
<text x="370.9" y="368.6" font-size="21.4" text-anchor="middle">30</text>
<text x="463.4" y="368.6" font-size="21.4" text-anchor="middle">40</text>
<text x="556.0" y="368.6" font-size="21.4" text-anchor="middle">50</text>
<circle cx="113.9" cy="25.5" r="4.4" fill="#c8c8c8" stroke="#2a2a2a" stroke-width="1"/>
<circle cx="114.0" cy="56.3" r="4.9" fill="#1f1d1e"/>
<text x="128.0" y="31.4" font-size="21">Peru</text>
<text x="128.0" y="62.3" font-size="21">Germany</text>
<text x="218.6" y="403.5" font-size="21">Daily T<tspan font-size="14" dy="6">a</tspan><tspan dy="-6"> amplitude (°C)</tspan></text>
<text transform="translate(14.6,271.3) rotate(-90)" font-size="21">Daily T<tspan font-size="14" dy="6">r</tspan><tspan dy="-6"> amplitude (°C)</tspan></text>
</svg>
</div></body></html>
